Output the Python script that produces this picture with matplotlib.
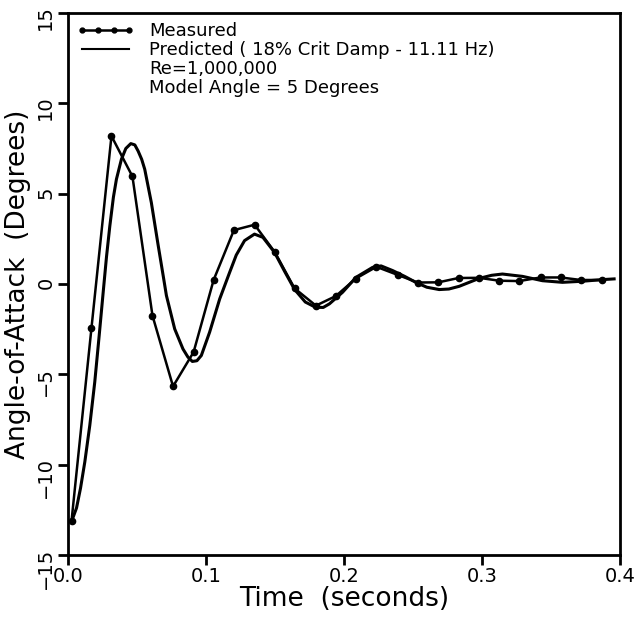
import matplotlib.pyplot as plt
from matplotlib.lines import Line2D

meas_t = [0.0027, 0.0171, 0.0316, 0.0468, 0.0613, 0.0762, 0.0911, 0.1056,
          0.1203, 0.1353, 0.1500, 0.1642, 0.1797, 0.1941, 0.2086, 0.2235,
          0.2390, 0.2534, 0.2684, 0.2830, 0.2978, 0.3125, 0.3270, 0.3424,
          0.3570, 0.3716, 0.3866]
meas_a = [-13.1, -2.45, 8.19, 5.95, -1.75, -5.67, -3.77, 0.22,
          2.98, 3.28, 1.75, -0.24, -1.2, -0.67, 0.3, 0.95,
          0.5, 0.08, 0.09, 0.33, 0.34, 0.18, 0.16, 0.36,
          0.36, 0.22, 0.22]

# predicted response
pred_t = [0.0039, 0.0063, 0.0092, 0.0123, 0.0159, 0.0195, 0.0227, 0.0256,
          0.0280, 0.0304, 0.0330, 0.0352, 0.0388, 0.0420, 0.0456, 0.0485,
          0.0509, 0.0535, 0.0557, 0.0605, 0.0653, 0.0694, 0.0714, 0.0774,
          0.0834, 0.0870, 0.0902, 0.0935, 0.0967, 0.1027, 0.1100, 0.1170,
          0.1220, 0.1280, 0.1352, 0.1413, 0.1497, 0.1570, 0.1642, 0.1720,
          0.1794, 0.1850, 0.1895, 0.1990, 0.2088, 0.2208, 0.2269, 0.2353,
          0.2440, 0.2520, 0.2600, 0.2690, 0.2760, 0.2835, 0.2980, 0.3070,
          0.3148, 0.3293, 0.3438, 0.3583, 0.3727, 0.3872, 0.3957]
pred_a = [-12.9, -12.4, -11.3, -9.85, -7.83, -5.43, -2.86, -0.46,
          1.5, 3.2, 4.8, 5.8, 6.9, 7.5, 7.77, 7.7,
          7.36, 6.9, 6.35, 4.5, 2.2, 0.3, -0.64, -2.49,
          -3.6, -4.05, -4.29, -4.25, -3.96, -2.67, -0.83, 0.6,
          1.6, 2.4, 2.76, 2.58, 1.75, 0.7, -0.3, -1.0,
          -1.29, -1.3, -1.1, -0.46, 0.37, 0.92, 1.0, 0.74,
          0.42, 0.09, -0.18, -0.31, -0.28, -0.13, 0.31, 0.48,
          0.55, 0.42, 0.18, 0.09, 0.15, 0.24, 0.28]

xticks = [0.0, 0.1, 0.2, 0.3, 0.4]
xticklabels = ['0.0', '0.1', '0.2', '0.3', '0.4']
yticks = [-15, -10, -5, 0, 5, 10, 15]

fig = plt.figure(figsize=(6.34, 6.2), dpi=100)
ax = fig.add_axes([0.107, 0.105, 0.871, 0.874])

ax.plot(meas_t, meas_a, color='black', lw=1.8, marker='o', ms=4.5)
ax.plot(pred_t, pred_a, color='black', lw=2.2)

ax.set_xlim(0, 0.4)
ax.set_ylim(-15, 15)
ax.set_xticks(xticks)
ax.set_xticklabels(xticklabels)
ax.set_yticks(yticks)

for s in ax.spines.values():
    s.set_linewidth(2)
ax.tick_params(axis='both', direction='out', length=7, width=2, labelsize=14, pad=2)
ax.tick_params(axis='y', labelrotation=90)

ax.set_xlabel('Time  (seconds)', fontsize=19, labelpad=0)
ax.set_ylabel('Angle-of-Attack  (Degrees)', fontsize=19, labelpad=4)

handles = [Line2D([], [], color='black', lw=1.8, marker='o', ms=3.5),
           Line2D([], [], color='black', lw=1.5),
           Line2D([], [], linestyle='none'),
           Line2D([], [], linestyle='none')]
labels = ['Measured',
          'Predicted ( 18% Crit Damp - 11.11 Hz)',
          'Re=1,000,000',
          'Model Angle = 5 Degrees']
ax.legend(handles, labels, loc='upper left', frameon=False, fontsize=13,
          numpoints=4, handlelength=3.2, handletextpad=0.8,
          labelspacing=0.05, borderaxespad=0.3, borderpad=0.2)

fig.savefig('out.png', dpi=100)
